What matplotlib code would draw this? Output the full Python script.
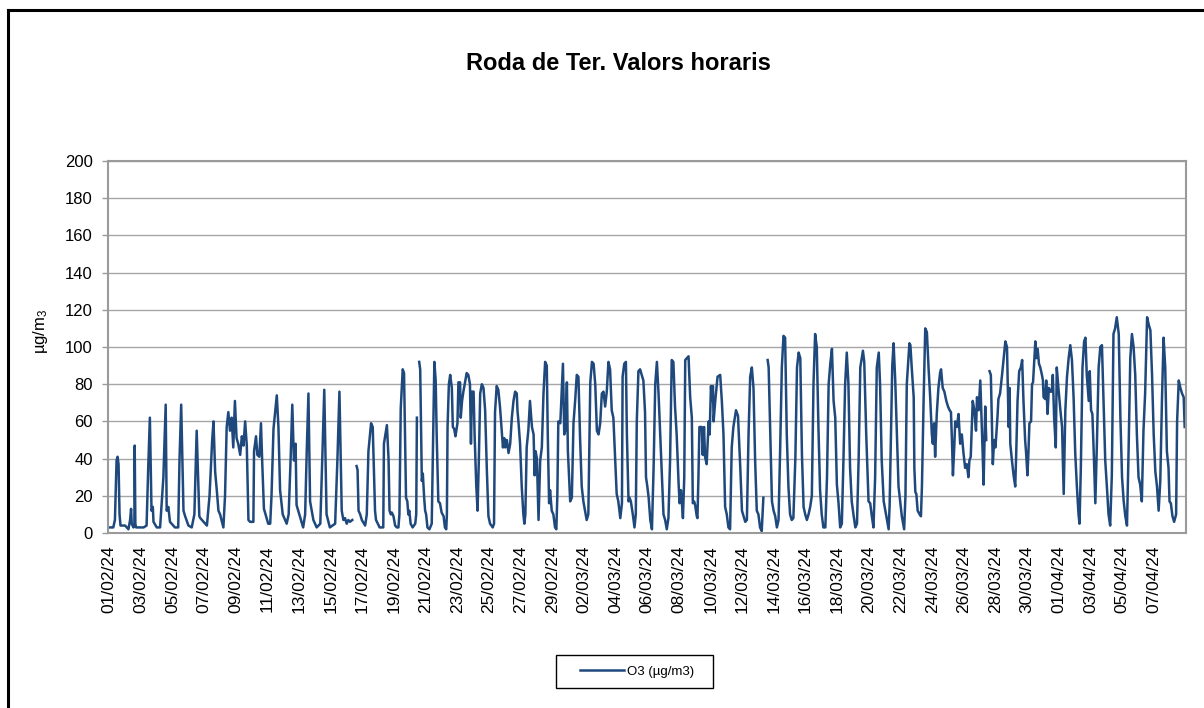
import numpy as np
import pandas as pd
import matplotlib
matplotlib.use('Agg')
import matplotlib.pyplot as plt
from matplotlib.lines import Line2D
from matplotlib.patches import Rectangle

plt.rcParams['font.family'] = ['Liberation Sans', 'DejaVu Sans']
plt.rcParams['mathtext.default'] = 'regular'

title = 'Roda de Ter. Valors horaris'
series_name = 'O3 (µg/m3)'
y_label = 'µg/m$_3$'
start_date = '2024-02-01'
last_label_date = '2024-04-07'
n_hours = 1635
y_ticks = list(range(0, 201, 20))

# (hour since 01/02/24 00:00, O3 value); None = gap in the record
o3_readings = [
    (0, 3), (8, 3), (10.5, 7), (13, 39), (14.5, 41), (16, 37), (17.5, 10), (19, 4), (26, 4), (31, 2),
    (33.5, 7), (35, 13), (36, 5), (38.5, 3), (40, 4), (40.5, 47), (41.5, 5), (42.5, 3), (48.5, 3), (54, 3),
    (58.5, 4), (61, 35), (63.5, 62), (66, 12), (68, 14), (69, 6), (74, 3), (79, 3), (84, 30), (87.5, 69),
    (89, 12), (91.5, 14), (94, 6), (101.5, 3), (106.5, 3), (108.5, 40), (111, 69), (114.5, 12), (117, 9),
    (122, 4), (127, 3), (131, 10), (134.5, 55), (138.5, 9), (140, 8), (150, 4), (154, 20), (158, 50),
    (160, 60), (162.5, 33), (165, 23), (167.5, 12), (170, 10), (175, 3), (177.5, 20), (180, 57), (182.5, 65),
    (185, 55), (187.5, 62), (190, 46), (192.5, 71), (195, 51), (197.5, 48), (200.5, 42), (203, 52),
    (205.5, 47), (208, 60), (210.5, 47), (213, 7), (215.5, 6), (220.5, 6), (221.5, 44), (224.5, 52),
    (226.5, 42), (229.5, 41), (232, 59), (234, 37), (236.5, 13), (239, 10), (243, 5), (246, 5), (248, 20),
    (251, 56), (256, 74), (258.5, 57), (261, 23), (265, 10), (271, 5), (274, 10), (277, 40), (279.5, 69),
    (282, 39), (284.5, 48), (286, 15), (291, 9), (296, 3), (299, 10), (301.5, 45), (304, 75), (306.5, 17),
    (311.5, 7), (316.5, 3), (322, 5), (325, 40), (328, 77), (331.5, 10), (336.5, 3), (344.5, 5), (348, 40),
    (351, 76), (354.5, 12), (357, 7), (359.5, 8), (362, 5), (364.5, 7), (367, 6), (370.5, 7), (374, None),
    (377, 36), (378.5, 34), (380, 12), (382.5, 10), (385, 7), (390, 4), (392.5, 10), (395, 44), (399, 59),
    (401.5, 57), (403.5, 30), (405, 12), (406.5, 7), (412, 3), (417.5, 3), (418.5, 48), (423, 58),
    (425.5, 40), (427, 12), (429, 10), (430.5, 11), (433, 9), (435.5, 4), (438, 3), (440.5, 3), (442, 10),
    (444, 67), (447, 88), (449, 86), (450.5, 53), (452, 19), (454, 17), (455.5, 10), (457, 12), (459, 5),
    (462, 3), (466, 5), (467.5, 10), (468.5, 62), (470, None), (472, 92), (473.5, 88), (475, 50), (476, 28),
    (477.5, 32), (479.5, 19), (481, 12), (482.5, 10), (484.5, 3), (487.5, 2), (491, 5), (493.5, 60),
    (495, 92), (497, 82), (498.5, 53), (501, 17), (503.5, 16), (506, 11), (509, 9), (511, 3), (513, 2),
    (514, 10), (515, 57), (517, 80), (519, 85), (521.5, 78), (523, 57), (525, 56), (527, 52), (530, 59),
    (531.5, 81), (534, 81), (535, 62), (537, 71), (539, 76), (541.5, 81), (544, 86), (546.5, 85), (549, 80),
    (550.5, 48), (552, 76), (554.5, 76), (556, 53), (558.5, 26), (560.5, 12), (562.5, 40), (564.5, 75),
    (567, 80), (569.5, 78), (572, 66), (574.5, 35), (577, 9), (579.5, 5), (583.5, 3), (585.5, 5), (587, 65),
    (589.5, 79), (592, 77), (594.5, 68), (597.5, 53), (599, 46), (601, 51), (602.5, 46), (605, 50),
    (607.5, 43), (610, 48), (612.5, 62), (615, 71), (617.5, 76), (620, 75), (621, 66), (622.5, 60),
    (625, 48), (627.5, 25), (630, 10), (631.5, 5), (633, 10), (635, 46), (637.5, 55), (640, 71), (643, 57),
    (645.5, 53), (647, 31), (648.5, 44), (650.5, 40), (653, 7), (655.5, 39), (658, 46), (660.5, 75),
    (663, 92), (665.5, 90), (667, 53), (669, 16), (670.5, 23), (673, 12), (675.5, 10), (678, 3), (680, 2),
    (681.5, 20), (683, 60), (686, 59), (690, 91), (692, 53), (693.5, 55), (696, 81), (697.5, 44),
    (699.5, 28), (701, 17), (703.5, 19), (706, 59), (708.5, 71), (711, 85), (713.5, 84), (716, 51),
    (718.5, 25), (721, 17), (723.5, 12), (726, 7), (728.5, 10), (731.5, 81), (734, 92), (736.5, 91),
    (739, 80), (741.5, 55), (744, 53), (746.5, 59), (749, 75), (751.5, 76), (754, 68), (756.5, 76),
    (759, 92), (761.5, 88), (764, 66), (766.5, 62), (769, 41), (771.5, 21), (774, 17), (777, 8),
    (779.5, 16), (780.5, 84), (783, 91), (785.5, 92), (787, 53), (789.5, 17), (791, 19), (793, 17),
    (796, 10), (798.5, 3), (800.5, 10), (802, 60), (804.5, 87), (807, 88), (809.5, 85), (812, 82),
    (814.5, 65), (816, 30), (818, 25), (820, 19), (822.5, 7), (825, 2), (827.5, 35), (830, 80), (832.5, 92),
    (835, 75), (837.5, 53), (840, 30), (842.5, 10), (845, 7), (847.5, 2), (850, 8), (852.5, 39), (855, 93),
    (857.5, 92), (860, 68), (862.5, 53), (865.5, 26), (867, 16), (869, 23), (870.5, 16), (872, 8), (874, 30),
    (875.5, 93), (880.5, 95), (883, 73), (885.5, 62), (887, 16), (889, 17), (890.5, 15), (893, 9), (894, 8),
    (895.5, 30), (897, 57), (900.5, 57), (902, 42), (904, 57), (905.5, 41), (908, 37), (911, 60),
    (912.5, 53), (914.5, 79), (916, 71), (917.5, 79), (918.5, 60), (921, 71), (924.5, 84), (928.5, 85),
    (931, 71), (933.5, 53), (936, 14), (938.5, 10), (941, 3), (943.5, 2), (946, 46), (948.5, 57),
    (952.5, 66), (955.5, 63), (959, 35), (961.5, 12), (964, 9), (966.5, 6), (969, 7), (971.5, 53),
    (974, 84), (976.5, 89), (979, 78), (981.5, 39), (984, 12), (986.5, 10), (989, 3), (991.5, 1),
    (994, 19), (997, None), (1000.5, 93), (1002, 89), (1004.5, 53), (1007, 17), (1009.5, 12), (1012, 9),
    (1014.5, 3), (1017, 7), (1019.5, 46), (1022, 89), (1024.5, 106), (1027, 105), (1029.5, 53),
    (1032, 25), (1034.5, 10), (1037, 7), (1039.5, 8), (1042.5, 40), (1045, 89), (1047.5, 97), (1050, 94),
    (1052.5, 42), (1055, 14), (1057.5, 10), (1060, 7), (1062.5, 10), (1065, 14), (1067.5, 20), (1070, 80),
    (1072.5, 107), (1075, 100), (1077.5, 57), (1080, 23), (1082.5, 10), (1085, 3), (1088, 3), (1090.5, 30),
    (1093, 80), (1095.5, 91), (1098, 99), (1100.5, 71), (1103, 62), (1105.5, 26), (1108, 16), (1110.5, 3),
    (1113, 5), (1115.5, 40), (1118, 80), (1120.5, 97), (1123, 80), (1125.5, 35), (1128, 17), (1131, 9),
    (1133.5, 3), (1136, 5), (1138.5, 40), (1141, 89), (1145, 98), (1147, 92), (1150, 53), (1153.5, 17),
    (1156, 16), (1158.5, 9), (1161, 3), (1163.5, 30), (1166, 89), (1169, 97), (1171, 80), (1173.5, 39),
    (1176.5, 17), (1180.5, 9), (1184, 2), (1185.5, 15), (1187.5, 53), (1189.5, 90), (1191.5, 102),
    (1194, 82), (1196.5, 53), (1199, 25), (1201.5, 17), (1204, 9), (1207.5, 2), (1209.5, 20), (1211.5, 80),
    (1215.5, 102), (1217, 101), (1219, 89), (1222, 73), (1223, 35), (1224.5, 22), (1226, 21), (1228, 12),
    (1231, 10), (1233, 9), (1234.5, 25), (1237, 71), (1239.5, 110), (1242, 108), (1244.5, 89), (1247, 73),
    (1249.5, 53), (1251, 48), (1253, 59), (1254.5, 41), (1257, 64), (1259.5, 78), (1262, 86), (1263.5, 88),
    (1266, 78), (1268.5, 76), (1271.5, 71), (1274, 68), (1276.5, 66), (1278.5, 65), (1280, 50),
    (1281.5, 31), (1283.5, 46), (1285, 60), (1287.5, 57), (1290, 64), (1292.5, 48), (1295, 53),
    (1297.5, 43), (1300, 35), (1302.5, 37), (1305, 30), (1306.5, 39), (1308.5, 41), (1311.5, 71),
    (1314, 66), (1316.5, 55), (1318, 73), (1320.5, 66), (1323, 82), (1324.5, 66), (1326.5, 44), (1328, 26),
    (1330.5, 68), (1332, 50), (1334.5, None), (1337, 87), (1339, 85), (1342, 37), (1344, 50), (1346, 46),
    (1349, 62), (1350.5, 72), (1353, 75), (1356, 85), (1358.5, 94), (1361, 103), (1363.5, 100), (1366, 57),
    (1367.5, 78), (1368.5, 48), (1371, 39), (1373.5, 31), (1376, 25), (1377.5, 43), (1379.5, 71),
    (1382, 87), (1384.5, 89), (1386.5, 93), (1388.5, 71), (1391, 50), (1392.5, 43), (1394.5, 31),
    (1396, 43), (1397.5, 59), (1400, 60), (1401.5, 80), (1403, 81), (1405, 93), (1406.5, 103), (1408, 94),
    (1410, 99), (1412, 91), (1414, 89), (1416.5, 85), (1418, 82), (1419, 73), (1421.5, 72), (1423, 82),
    (1425, 64), (1427, 78), (1429, 76), (1431.5, 76), (1433, 85), (1435, 62), (1437.5, 46), (1439, 89),
    (1441.5, 78), (1444.5, 66), (1447, 57), (1449.5, 21), (1452, 66), (1454.5, 84), (1457, 94),
    (1459.5, 101), (1462, 93), (1464.5, 73), (1467, 43), (1469.5, 25), (1472, 10), (1473.5, 5),
    (1475.5, 35), (1478, 89), (1480.5, 103), (1482.5, 105), (1484.5, 85), (1487.5, 71), (1489, 87),
    (1491, 66), (1493, 64), (1495, 44), (1497.5, 16), (1500, 50), (1502.5, 89), (1505, 100), (1507.5, 101),
    (1510, 71), (1512.5, 39), (1515, 25), (1517.5, 10), (1520, 4), (1522.5, 31), (1525, 107), (1527.5, 110),
    (1530, 116), (1533, 107), (1535.5, 62), (1538, 30), (1540.5, 17), (1543, 9), (1545.5, 4), (1548, 46),
    (1550.5, 94), (1553, 107), (1555.5, 100), (1558, 85), (1560.5, 53), (1563, 30), (1565.5, 26),
    (1568, 17), (1570.5, 55), (1573, 75), (1576, 116), (1578.5, 112), (1581, 109), (1583.5, 85), (1586, 53),
    (1588.5, 33), (1591, 25), (1593.5, 12), (1596, 28), (1598.5, 71), (1601, 105), (1603.5, 89), (1606, 44),
    (1608.5, 35), (1610, 17), (1612, 16), (1614.5, 9), (1617, 6), (1620, 10), (1621.5, 60), (1624, 82),
    (1626.5, 78), (1629, 75), (1631.5, 73), (1633, 57),
]

hours = np.array([h for h, v in o3_readings], dtype=float)
o3 = np.array([np.nan if v is None else v for h, v in o3_readings], dtype=float)

W, H = 1204, 708
fig = plt.figure(figsize=(W / 100, H / 100), dpi=100)
fig.patch.set_facecolor('white')

left, right, top, bottom = 108, 1186, 161, 533
ax = fig.add_axes([left / W, 1 - bottom / H, (right - left) / W, (bottom - top) / H])
ax.plot(hours, o3, color='#1F497D', lw=1.8, label=series_name, solid_joinstyle='round')

ax.set_xlim(0, n_hours)
ax.set_ylim(0, 200)
ax.set_yticks(y_ticks)
ax.yaxis.grid(True, color='#A6A6A6', lw=1.0)
ax.set_axisbelow(True)
for s in ax.spines.values():
    s.set_color('#9A9A9A')
    s.set_linewidth(1.5)
ax.tick_params(axis='y', length=4, width=1, color='#9A9A9A', labelsize=12, pad=7)

tick_dates = pd.date_range(start_date, last_label_date, freq='2D')
ax.set_xticks(2 + 48 * np.arange(len(tick_dates)))
ax.set_xticklabels(tick_dates.strftime('%d/%m/%y'), rotation=90, fontsize=12.5)
ax.tick_params(axis='x', length=0, pad=9)

fig.text(618 / W, 1 - 64 / H, title, ha='center', va='center', fontsize=17, fontweight='bold')
fig.text(40 / W, 1 - 331 / H, y_label, ha='center', va='center', rotation=90, fontsize=12)

# legend: box drawn as a figure rectangle, entries placed inside it
fig.add_artist(Rectangle((556 / W, 1 - 688 / H), (713 - 556) / W, (688 - 655) / H,
                         transform=fig.transFigure, fill=True, facecolor='white',
                         edgecolor='black', lw=1.0))
handles, labels = ax.get_legend_handles_labels()
leg = fig.legend(handles, labels, loc='center', bbox_to_anchor=(637 / W, 1 - 671.5 / H),
                 fontsize=9.5, frameon=False, handlelength=3.3, handletextpad=0.25)

# chart-area border (top and left visible in the crop)
fig.add_artist(Line2D([8 / W, 8 / W], [0, 1 - 9.5 / H], transform=fig.transFigure, color='black', lw=2.2))
fig.add_artist(Line2D([8 / W, 1], [1 - 9.5 / H, 1 - 9.5 / H], transform=fig.transFigure, color='black', lw=2.2))

fig.savefig('out.png', dpi=100, facecolor='white')
